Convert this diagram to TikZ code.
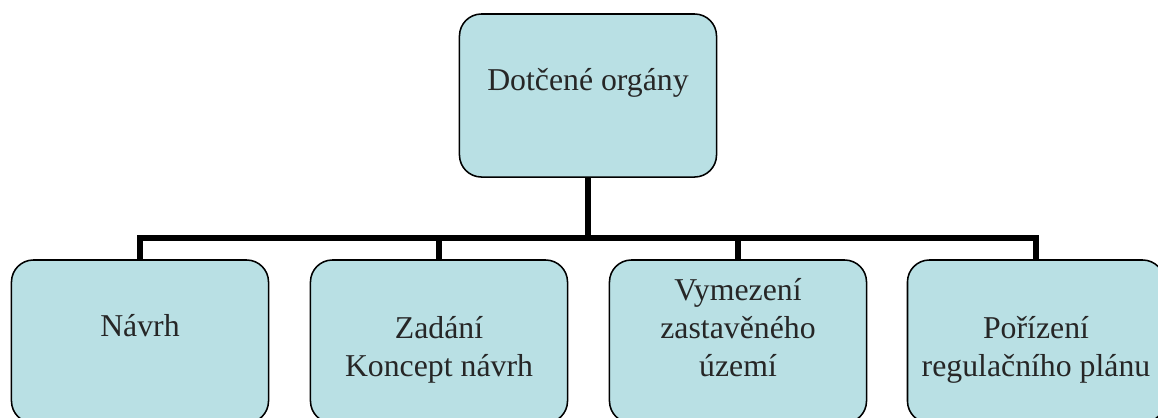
\documentclass[tikz,border=0pt]{standalone}
\usepackage{fontspec}
\setmainfont{Liberation Serif}
\usepackage{tikz}
\definecolor{boxfill}{RGB}{185,224,228}
\definecolor{boxtext}{RGB}{38,38,38}

\begin{document}
\begin{tikzpicture}[x=0.025cm, y=-0.025cm,
        organ/.style={rectangle, rounded corners=0.55cm, draw, line width=1.1pt, fill=boxfill, text=boxtext,
            minimum width=6.425cm, inner sep=0pt, align=center, text height=2.9cm, text depth=1.175cm,
            font=\fontsize{22.6}{26.7}\selectfont},
        oneline/.style={organ, text height=1.9cm, text depth=2.175cm},
        conn/.style={line width=3.6pt}
    ]
        \clip (0,0) rectangle (1158,417);
        \node[oneline] (dotcene) at (588,95.5) {Dotčené orgány};
        \node[oneline] (navrh) at (140,341.5) {Návrh};
        \node[organ] (zadani) at (439,341.5) {Zadání\\Koncept návrh};
        \node[organ] (vymezeni) at (738,341.5) {Vymezení\\zastavěného\\území};
        \node[organ] (porizeni) at (1036,341.5) {Pořízení\\regulačního plánu};

        \coordinate (split) at (588,238);
        \foreach \n in {navrh,zadani,vymezeni,porizeni}
            \draw[conn] (dotcene) -- (split) -| (\n);
\end{tikzpicture}
\end{document}
